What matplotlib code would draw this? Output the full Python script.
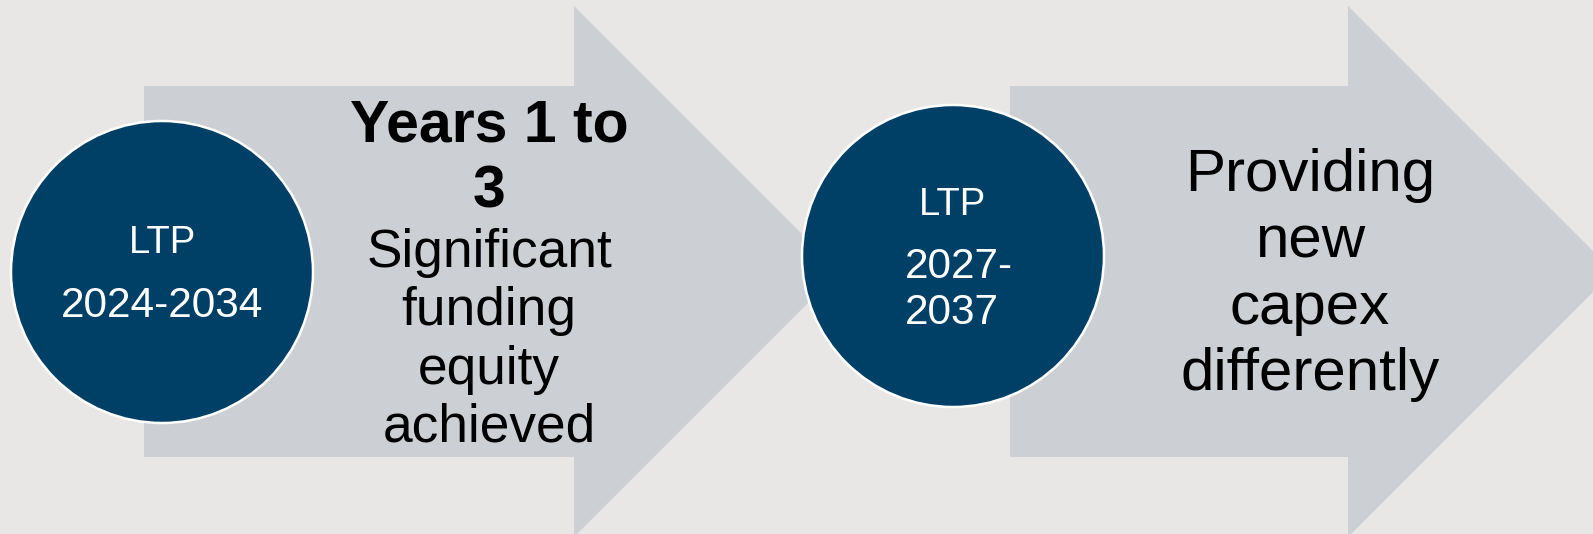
import matplotlib.pyplot as plt
from matplotlib.patches import Polygon, Circle

plt.rcParams['font.family'] = ['Liberation Sans', 'DejaVu Sans']

# the two steps of the timeline
circle_titles = ["LTP", "LTP"]
circle_periods = [["2024-2034"], ["2027-", "2037"]]
arrow_bold = [["Years 1 to", "3"], []]
arrow_text = [["Significant", "funding", "equity", "achieved"],
              ["Providing", "new", "capex", "differently"]]

bg = "#e8e7e5"
arrow_col = "#cccfd4"
circle_col = "#003f66"

W, H = 1593, 534
fig = plt.figure(figsize=(W / 100, H / 100), dpi=100)
fig.patch.set_facecolor(bg)
ax = fig.add_axes([0, 0, 1, 1])
ax.set_xlim(0, W)
ax.set_ylim(H, 0)
ax.axis("off")

# arrow shapes (body left, head base) and circles (centre)
top, bot, htop = 86, 457, 6
mid = (top + bot) / 2
arrows = [(144, 574), (1010, 1348)]
circles = [(162, 272), (953, 256)]
for (x0, xh) in arrows:
    tip = xh + (mid - htop)
    pts = [(x0, top), (xh, top), (xh, htop), (tip, mid),
           (xh, 2 * mid - htop), (xh, bot), (x0, bot)]
    ax.add_patch(Polygon(pts, closed=True, fc=arrow_col, ec="none"))
for (cx, cy) in circles:
    ax.add_patch(Circle((cx, cy), 151, fc=circle_col, ec="white", lw=1.8))

# circle labels
ax.text(162, 253, circle_titles[0], color="white", fontsize=27.5,
        ha="center", va="baseline")
ax.text(162, 317, circle_periods[0][0], color="white", fontsize=30.5,
        ha="center", va="baseline")
ax.text(953, 215, circle_titles[1], color="white", fontsize=27.5,
        ha="center", va="baseline")
for line, x, y in zip(circle_periods[1], [959, 952], [278, 324]):
    ax.text(x, y, line, color="white", fontsize=30.5,
            ha="center", va="baseline")

# arrow 1 text
for line, y in zip(arrow_bold[0], [141, 208]):
    ax.text(489, y, line, color="black", fontsize=42.5,
            fontweight="bold", ha="center", va="baseline")
for j, line in enumerate(arrow_text[0]):
    ax.text(489, 267 + j * 58.3, line, color="black", fontsize=38.3,
            ha="center", va="baseline")

# arrow 2 text
for j, line in enumerate(arrow_text[1]):
    ax.text(1310, 191 + j * 66.3, line, color="black", fontsize=43.3,
            ha="center", va="baseline")

fig.savefig("out.png", dpi=100, facecolor=bg)
